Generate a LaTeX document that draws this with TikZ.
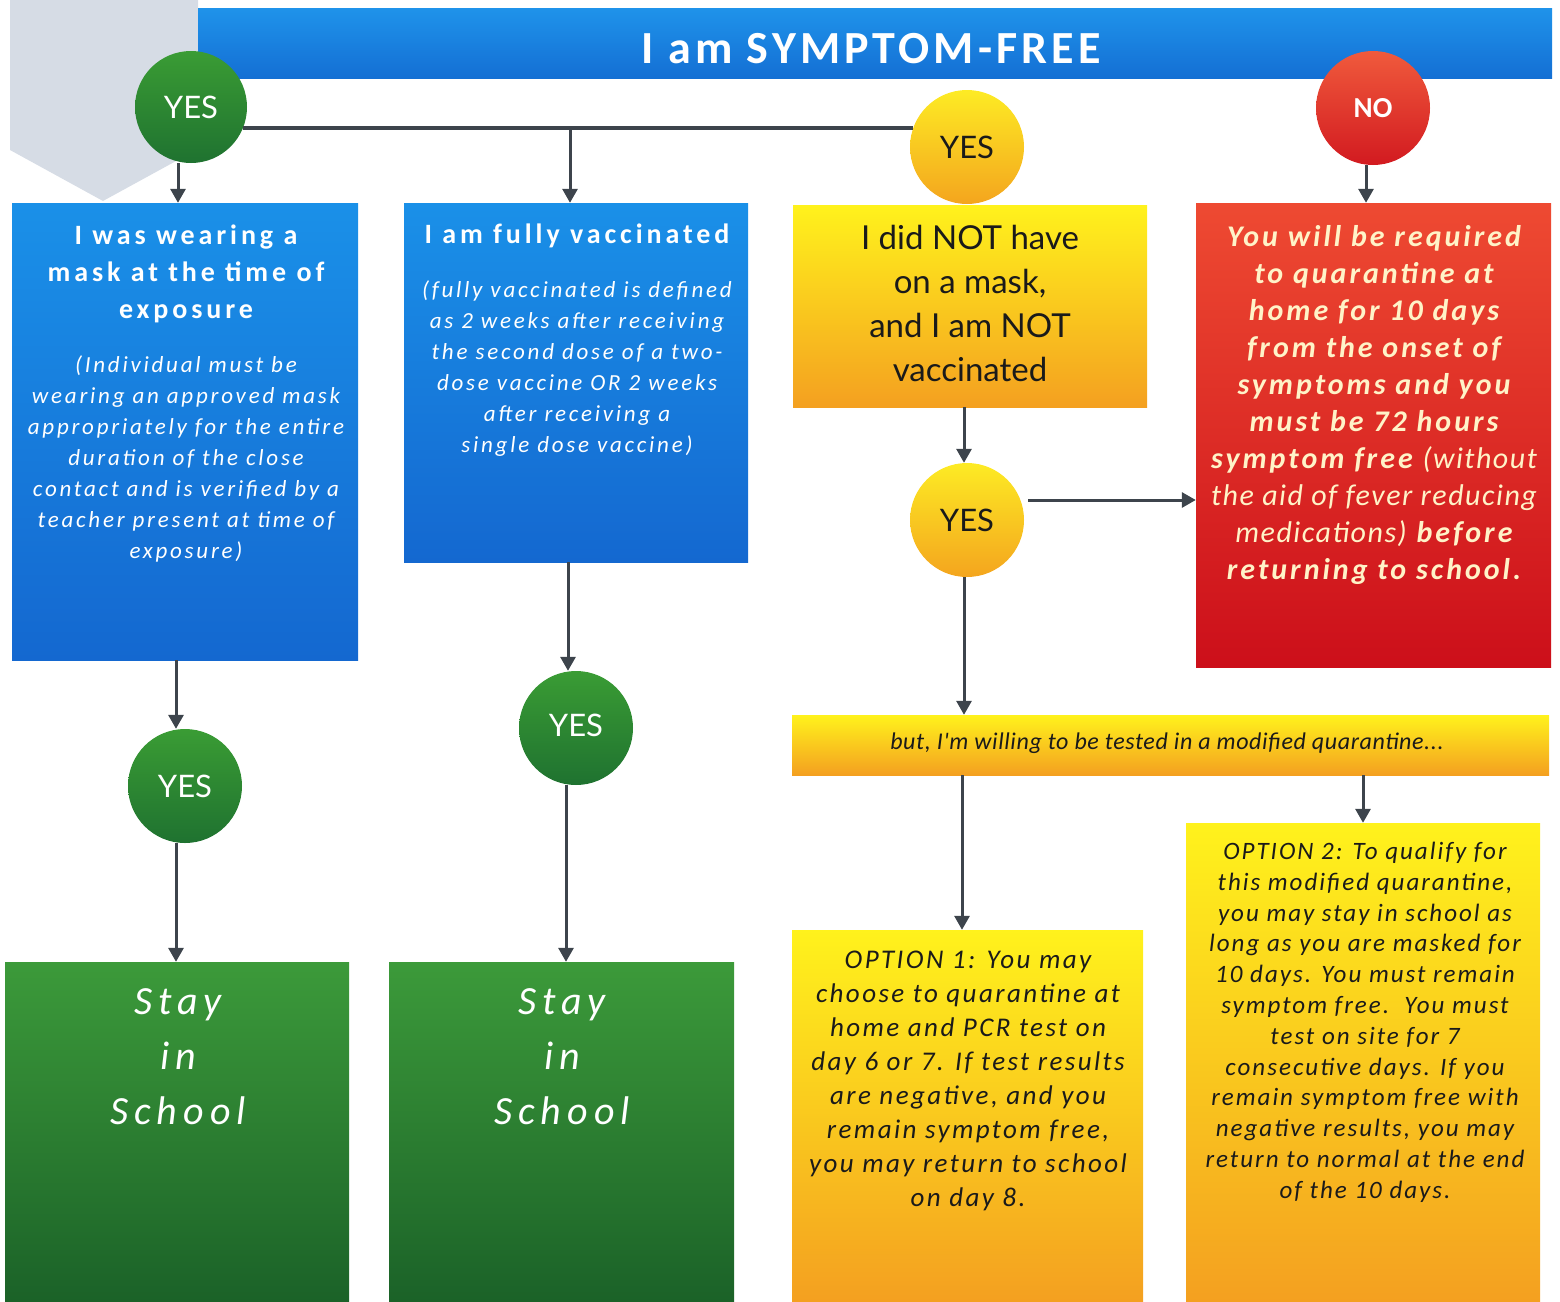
\documentclass[tikz,border=0pt]{standalone}
\usepackage{fontspec}
\setmainfont{Carlito}
\newfontfamily\latofont{Lato}
\newfontfamily\spTitle[LetterSpace=14]{Carlito}
\newfontfamily\spBody[LetterSpace=12]{Carlito}
\newfontfamily\spBan[LetterSpace=9]{Carlito}
\newfontfamily\spRed[LetterSpace=10]{Carlito}
\newfontfamily\spRedM[LetterSpace=5]{Carlito}
\newfontfamily\spOpt[LetterSpace=9]{Carlito}
\newfontfamily\spOptB[LetterSpace=8]{Carlito}
\newfontfamily\spStay[LetterSpace=15]{Carlito}
\newfontfamily\spQ[LetterSpace=2.5]{Carlito}
\usetikzlibrary{arrows.meta,calc}
\definecolor{cgray}{HTML}{D6DCE5}
\definecolor{bantop}{HTML}{1F93EA}
\definecolor{banbot}{HTML}{146FD4}
\definecolor{bluetop}{HTML}{1A90E8}
\definecolor{bluebot}{HTML}{1468D0}
\definecolor{yeltop}{HTML}{FFF21C}
\definecolor{yelmid}{HTML}{FCD81A}
\definecolor{yelbot}{HTML}{F4A020}
\definecolor{redtop}{HTML}{EE4A32}
\definecolor{redbot}{HTML}{CC0F1A}
\definecolor{grntop}{HTML}{3C9A3A}
\definecolor{grnbot}{HTML}{1B6228}
\definecolor{gctop}{HTML}{3A9C34}
\definecolor{gcbot}{HTML}{1F7230}
\definecolor{yctop}{HTML}{FDEB24}
\definecolor{ycbot}{HTML}{F4A51E}
\definecolor{rctop}{HTML}{F05A3C}
\definecolor{rcbot}{HTML}{D21A20}
\definecolor{arrcol}{HTML}{3D444C}
\definecolor{redtxt}{HTML}{FFF3C8}
\definecolor{darktxt}{HTML}{1A1A1A}
\tikzset{
  boxbase/.style={rectangle, inner sep=0pt, draw=none},
  bluebox/.style={boxbase, top color=bluetop, bottom color=bluebot},
  yelbox/.style={boxbase, top color=yeltop, middle color=yelmid, bottom color=yelbot},
  redbox/.style={boxbase, top color=redtop, bottom color=redbot},
  grnbox/.style={boxbase, top color=grntop, bottom color=grnbot},
  circbase/.style={circle, inner sep=0pt, minimum size=114pt, draw=none, font=\latofont\fontsize{31}{31}\selectfont},
  grncirc/.style={circbase, top color=gctop, bottom color=gcbot, text=white},
  yelcirc/.style={circbase, top color=yctop, bottom color=ycbot, text=darktxt},
  redcirc/.style={circbase, top color=rctop, bottom color=rcbot, text=white},
  txt/.style={inner sep=0pt, align=center, anchor=north},
  arr/.style={draw=arrcol, line width=3pt, -{Triangle[length=14pt,width=15pt]}},
  conn/.style={draw=arrcol, line width=4pt}
}
\begin{document}
\begin{tikzpicture}[x=1pt,y=-1pt]
\useasboundingbox (0,0) rectangle (1560,1301);
% background chevron
\fill[cgray] (10,0) -- (198,0) -- (198,149) -- (103,201) -- (10,150) -- cycle;
% banner
\node[boxbase, top color=bantop, bottom color=banbot, minimum width=1354pt, minimum height=70pt] (ban) at (875,43) {};
\node[inner sep=0pt, text=white, font=\spBan\bfseries\fontsize{46}{46}\selectfont] (bant) at (871,49) {I am SYMPTOM-FREE};
% boxes
\node[bluebox, minimum width=346pt, minimum height=457pt] (b1) at (185,431.5) {};
\node[bluebox, minimum width=344pt, minimum height=359pt] (b2) at (576,382.5) {};
\node[yelbox, minimum width=354pt, minimum height=202pt] (b3) at (970,306) {};
\node[redbox, minimum width=355pt, minimum height=464pt] (b4) at (1373.5,435) {};
\node[yelbox, minimum width=757pt, minimum height=60pt] (q) at (1170.5,745) {};
\node[yelbox, minimum width=351pt, minimum height=371pt] (o1) at (967.5,1115.5) {};
\node[yelbox, minimum width=354pt, minimum height=478pt] (o2) at (1363,1062) {};
\node[grnbox, minimum width=344pt, minimum height=339pt] (s1) at (177,1131.5) {};
\node[grnbox, minimum width=345pt, minimum height=339pt] (s2) at (561.5,1131.5) {};
% box texts
\node[txt, text=white, font=\spTitle\bfseries\fontsize{28}{37}\selectfont] (b1t) at (186,225) {I was wearing a\\mask at the time of\\exposure};
\node[txt, text=white, font=\spBody\itshape\fontsize{23}{31}\selectfont] (b1d) at (186,356) {(Individual must be\\wearing an approved mask\\appropriately for the entire\\duration of the close\\contact and is verified by a\\teacher present at time of\\exposure)};
\node[txt, text=white, font=\spTitle\bfseries\fontsize{28}{37}\selectfont] (b2t) at (577,224) {I am fully vaccinated};
\node[txt, text=white, font=\spBody\itshape\fontsize{23}{31}\selectfont] (b2d) at (577,281) {(fully vaccinated is defined\\as 2 weeks after receiving\\the second dose of a two-\\dose vaccine OR 2 weeks\\after receiving a\\single dose vaccine)};
\node[txt, text=darktxt, font=\latofont\fontsize{33}{44}\selectfont] (b3t) at (970,225) {I did NOT have\\on a mask,\\and I am NOT\\vaccinated};
\node[txt, text=redtxt, font=\spRed\bfseries\itshape\fontsize{30}{37}\selectfont] (b4t) at (1374,225) {You will be required\\to quarantine at\\home for 10 days\\from the onset of\\symptoms and you\\must be 72 hours\\symptom free {\spRedM\mdseries\itshape (without}\\{\spRedM\mdseries\itshape the aid of fever reducing}\\{\spRedM\mdseries\itshape medications)} before\\returning to school.};
\node[inner sep=0pt, text=darktxt, font=\spQ\itshape\fontsize{24}{24}\selectfont] (qt) at (1167,743) {but, I'm willing to be tested in a modified quarantine...};
\node[txt, text=darktxt, font=\spOpt\itshape\fontsize{27}{34}\selectfont] (o1t) at (968,951) {OPTION 1: You may\\choose to quarantine at\\home and PCR test on\\day 6 or 7. If test results\\are negative, and you\\remain symptom free,\\you may return to school\\on day 8.};
\node[txt, text=darktxt, font=\spOptB\itshape\fontsize{25}{30.8}\selectfont] (o2t) at (1365,842) {OPTION 2: To qualify for\\this modified quarantine,\\you may stay in school as\\long as you are masked for\\10 days. You must remain\\symptom free.\ \ You must\\test on site for 7\\consecutive days. If you\\remain symptom free with\\negative results, you may\\return to normal at the end\\of the 10 days.};
\node[txt, text=white, font=\spStay\itshape\fontsize{40}{55}\selectfont] (s1t) at (178,988) {Stay\\in\\School};
\node[txt, text=white, font=\spStay\itshape\fontsize{40}{55}\selectfont] (s2t) at (562,988) {Stay\\in\\School};
% circles
\node[grncirc, minimum size=112pt] (c1) at (191,107) {YES};
\node[yelcirc] (y1) at (967,147) {YES};
\node[redcirc, font=\bfseries\fontsize{29}{29}\selectfont] (no) at (1373,108) {NO};
\node[yelcirc] (y2) at (967,520) {YES};
\node[grncirc] (g1) at (185,786) {YES};
\node[grncirc] (g2) at (576,728) {\raisebox{5pt}{YES}};
% connector coordinates
\coordinate (a1) at (178,0);
\coordinate (a2) at (570,128);
\coordinate (a4) at (1366,0);
\coordinate (a5) at (964,0);
\coordinate (a6) at (1028,500);
\coordinate (a7) at (962,0);
\coordinate (a8) at (1363,0);
\coordinate (a9) at (176,0);
\coordinate (a10) at (568,0);
\coordinate (a11) at (566,0);
% connectors
\draw[conn] (c1.-22) -- (c1.-22 -| y1.160);
\draw[arr] (c1.south -| a1) -- (b1.north -| a1);
\draw[arr] (a2) -- (a2 |- b2.north);
\draw[arr] (no.south -| a4) -- (b4.north -| a4);
\draw[arr] (b3.south -| a5) -- (y2.north -| a5);
\draw[arr] (a6) -- (a6 -| b4.west);
\draw[arr] (y2.south -| a5) -- (q.north -| a5);
\draw[arr] (q.south -| a7) -- (o1.north -| a7);
\draw[arr] (q.south -| a8) -- (o2.north -| a8);
\draw[arr] (b1.south -| a9) -- (g1.north -| a9);
\draw[arr] (g1.south -| a9) -- (s1.north -| a9);
\draw[arr] (b2.south -| a10) -- (g2.north -| a10);
\draw[arr] (g2.south -| a11) -- (s2.north -| a11);
\end{tikzpicture}
\end{document}
